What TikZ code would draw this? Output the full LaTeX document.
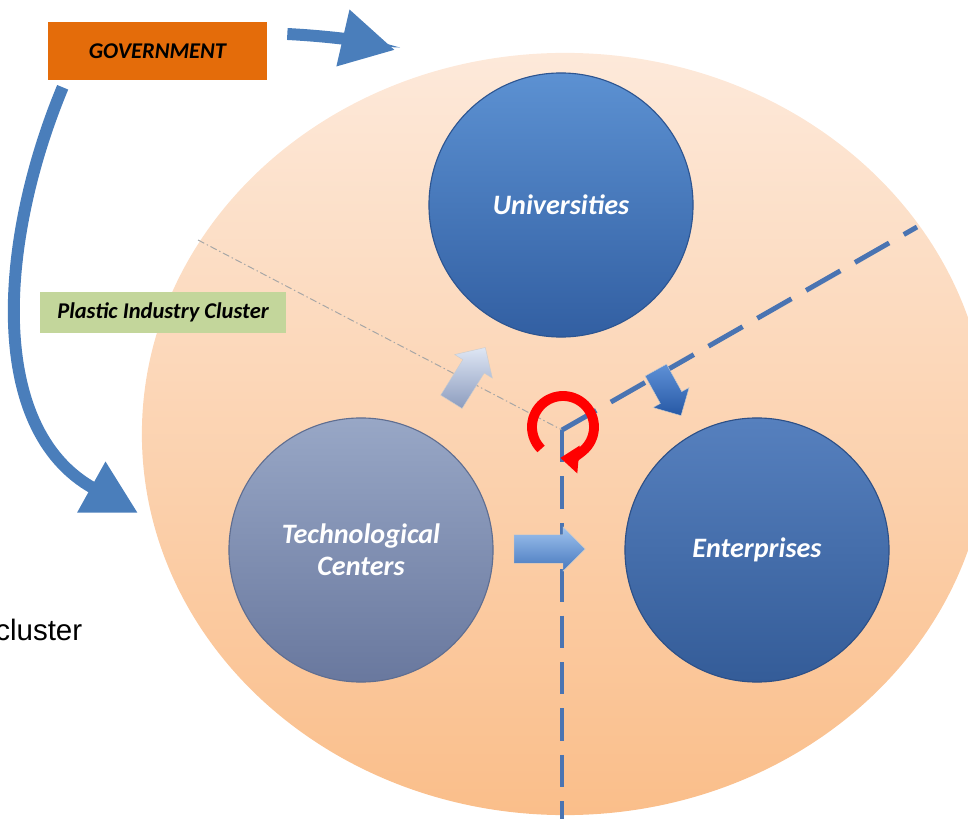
\documentclass[tikz,border=0pt]{standalone}
\usepackage{fontspec}
\setmainfont{Carlito}
\newfontfamily\arialfont{Liberation Sans}
\usepackage{xcolor}
\usepackage{tikz}
\usetikzlibrary{shapes.geometric,shapes.arrows,arrows.meta,positioning,calc}

\definecolor{govorange}{RGB}{228,108,10}
\definecolor{plasticgreen}{RGB}{195,214,155}
\definecolor{arrowblue}{RGB}{74,126,187}
\definecolor{lineblue}{RGB}{74,116,178}

\begin{document}
\begin{tikzpicture}[x=0.025cm,y=0.025cm,
  lbl/.style={font=\fontsize{16}{19}\selectfont\bfseries\itshape, inner sep=0},
  actor/.style={circle, minimum size=6.6cm, inner sep=0, align=center, text=white,
    font=\fontsize{20}{23}\selectfont\bfseries\itshape, line width=0.8pt},
  bigarrow/.style={arrowblue, line width=8.5pt, -{Triangle[length=38pt,width=39pt]}},
  blockarrow/.style={single arrow, draw=white!60!gray, line width=0.3pt}]
\useasboundingbox (0,0) rectangle (968,818);

% cluster
\node[ellipse, minimum width=21.15cm, minimum height=19.05cm, inner sep=0,
  top color={rgb,255:red,253;green,233;blue,218},
  bottom color={rgb,255:red,250;green,190;blue,138}] (bigcircle) at (565,384) {};
\node[font=\arialfont\fontsize{21}{25}\selectfont, anchor=base west, inner sep=0]
  (clusterword) at (-5,178) {cluster};

% boxes
\node[lbl, fill=govorange, minimum width=5.475cm, minimum height=1.45cm] (gov) at (157.5,767) {GOVERNMENT};
\node[lbl, fill=plasticgreen, minimum width=6.15cm, minimum height=1.025cm] (plastic) at (163,505.5) {Plastic Industry Cluster};

% sectors
\coordinate (hub) at (562,388);
\coordinate (nwend) at (198,578);
\coordinate (neend) at (917,591);
\coordinate (send) at (562,-5);
\draw[gray!70, line width=0.7pt, dash pattern=on 5pt off 2pt on 1pt off 2pt] (nwend) -- (hub);
\draw[lineblue, line width=3.5pt, dash pattern=on 28pt off 12pt] (hub) -- (neend);
\draw[lineblue, line width=3pt, dash pattern=on 23pt off 10pt] (hub) -- (send);

% actors
\node[actor, draw={rgb,255:red,45;green,85;blue,145},
  top color={rgb,255:red,92;green,145;blue,210},
  bottom color={rgb,255:red,50;green,95;blue,162}] (univ) at (561,613) {Universities};
\node[actor, draw={rgb,255:red,95;green,110;blue,145},
  top color={rgb,255:red,152;green,167;blue,198},
  bottom color={rgb,255:red,105;green,120;blue,158}] (tech) at (361,268) {Technological\\Centers};
\node[actor, draw={rgb,255:red,45;green,80;blue,135},
  top color={rgb,255:red,86;green,128;blue,190},
  bottom color={rgb,255:red,52;green,92;blue,152}] (ent) at (757,268) {Enterprises};

% flows
\node[blockarrow, rotate=58, minimum height=1.6cm, inner sep=0.31cm, single arrow head extend=0.24cm,
  top color={rgb,255:red,222;green,230;blue,244}, bottom color={rgb,255:red,140;green,156;blue,190}] (upflow) at (465,438) {};
\node[blockarrow, rotate=-61, minimum height=1.3cm, inner sep=0.3cm, single arrow head extend=0.21cm,
  top color={rgb,255:red,95;green,145;blue,215}, bottom color={rgb,255:red,38;green,88;blue,165}] (downflow) at (665.5,430.5) {};
\node[blockarrow, minimum height=1.78cm, inner sep=0.35cm, single arrow head extend=0.2cm,
  top color={rgb,255:red,160;green,195;blue,238}, bottom color={rgb,255:red,70;green,120;blue,190}] (rightflow) at (542.5,269) {};

% cycle
\coordinate (spin) at (563,391);
\draw[red, line width=7pt, -{Triangle[length=13pt,width=19pt]}]
  ([shift={(225:0.775cm)}]spin) arc[start angle=225, end angle=-95, radius=0.775cm];

% government
\coordinate (toptip) at (395,768);
\coordinate (lefttip) at (138,305);
\draw[bigarrow] ([xshift=0.5cm,yshift=0.425cm]gov.east) to[out=-3,in=167] (toptip);
\draw[bigarrow] ([xshift=0.375cm,yshift=-0.175cm]gov.south west)
  .. controls (0,580) and (-15,390) .. (lefttip);
\end{tikzpicture}
\end{document}
